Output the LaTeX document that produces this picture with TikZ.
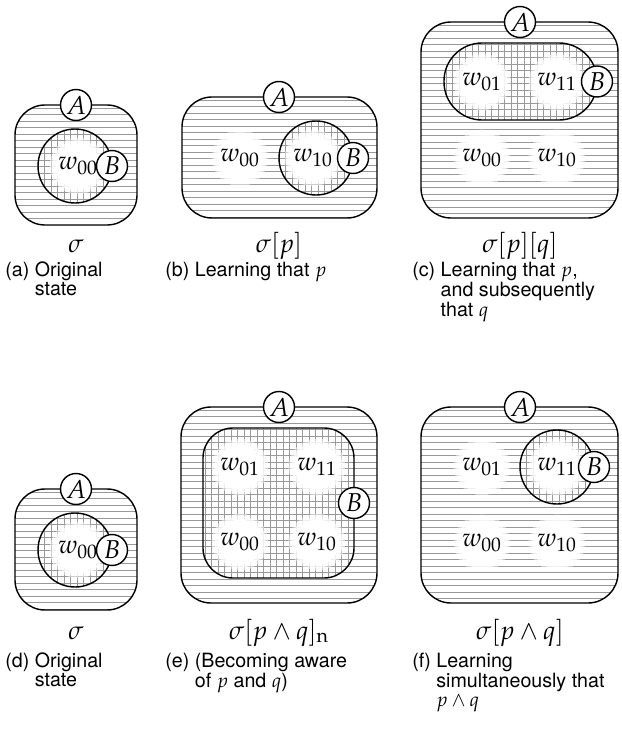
\documentclass[tikz,border=0pt]{standalone}
\usepackage{mathpazo}
\usepackage[no-math]{fontspec}
\newfontfamily\capsf{TeX Gyre Heros}
\newcommand\dfont{\fontsize{15.5}{18}\selectfont}
\newcommand\cfont{\fontsize{11.8}{11.6}\selectfont\capsf}
\tikzset{
  hatch/.style={draw=black!40, line width=0.45pt},
  region/.style={draw=black, line width=0.85pt},
  agent/.style={circle, draw=black, line width=0.85pt, fill=white, minimum size=18.6pt, inner sep=0.5pt, font=\dfont},
  world/.style={font=\dfont, inner sep=0pt},
  stlabel/.style={font=\dfont, anchor=base, inner sep=0pt},
  capnode/.style={anchor=base west, font=\cfont, inner sep=0pt},
}
\newcommand\hlines[4]{%
  \pgfmathtruncatemacro\nlines{((#4)-(#2))/6.5}%
  \foreach \k in {0,...,\nlines}{\draw[hatch] (#1,{#2+6.5*\k}) -- (#3,{#2+6.5*\k});}}
\newcommand\vlines[4]{%
  \pgfmathtruncatemacro\nlines{((#3)-(#1))/6.5}%
  \foreach \k in {0,...,\nlines}{\draw[hatch] ({#1+6.5*\k},#2) -- ({#1+6.5*\k},#4);}}
\newcommand\blob[1]{%
  \fill[white, opacity=0.5] (#1) circle[radius=17pt];
  \fill[white, opacity=0.7] (#1) circle[radius=15.5pt];
  \fill[white] (#1) circle[radius=13.5pt];}
\begin{document}
\begin{tikzpicture}[x=0.6pt, y=-0.6pt]
\useasboundingbox (0,0) rectangle (622,743);

% ---------- (a)
\begin{scope}
  \clip[rounded corners=18pt] (15,105) rectangle (137,225);
  \hlines{15}{108}{137}{225}
  \clip (75,166) circle[radius=22.2pt];
  \vlines{38}{128}{112}{204}
\end{scope}
\blob{78,166}
\node[world] (aw00) at (78,166) {$w_{00}$};
\draw[region, rounded corners=18pt] (15,105) rectangle (137,225);
\draw[region] (75,166) circle[radius=22.2pt];
\node[agent] (aA) at (76,105) {$A$};
\node[agent] (aB) at (112,166) {$B$};
\node[stlabel] (asig) at (76,252) {$\sigma$};
\node[capnode] (acap) at (5,276) {\begin{tabular}[t]{@{}l@{\ }l@{}}(a)&Original\\&state\end{tabular}};

% ---------- (b)
\begin{scope}
  \clip[rounded corners=18pt] (182,97) rectangle (377,218);
  \hlines{182}{100}{377}{218}
  \clip (316,158) circle[radius=22.2pt];
  \vlines{279}{120}{353}{196}
\end{scope}
\blob{240,158}
\blob{313,158}
\node[world] (bw00) at (240,158) {$w_{00}$};
\node[world] (bw10) at (313,158) {$w_{10}$};
\draw[region, rounded corners=18pt] (182,97) rectangle (377,218);
\draw[region] (316,158) circle[radius=22.2pt];
\node[agent] (bA) at (279,97) {$A$};
\node[agent] (bB) at (353,158) {$B$};
\node[stlabel] (bsig) at (279,252) {$\sigma[p]$};
\node[capnode] (bcap) at (165,276) {\begin{tabular}[t]{@{}l@{\ }l@{}}(b)&Learning that $p$\end{tabular}};

% ---------- (c)
\begin{scope}
  \clip[rounded corners=18pt] (421,22) rectangle (618,218);
  \hlines{421}{25}{618}{218}
  \clip[rounded corners=22.8pt] (444,43) rectangle (597,120);
  \vlines{446}{43}{597}{120}
\end{scope}
\blob{482,82}
\blob{557,82}
\blob{482,158}
\blob{557,158}
\node[world] (cw01) at (482,82) {$w_{01}$};
\node[world] (cw11) at (557,82) {$w_{11}$};
\node[world] (cw00) at (482,158) {$w_{00}$};
\node[world] (cw10) at (557,158) {$w_{10}$};
\draw[region, rounded corners=18pt] (421,22) rectangle (618,218);
\draw[region, rounded corners=22.8pt] (444,43) rectangle (597,120);
\node[agent] (cA) at (520,22) {$A$};
\node[agent] (cB) at (597,81.5) {$B$};
\node[stlabel] (csig) at (520,252) {$\sigma[p][q]$};
\node[capnode] (ccap) at (412,276) {\begin{tabular}[t]{@{}l@{\ }l@{}}(c)&Learning that $p$,\\&and subsequently\\&that $q$\end{tabular}};

% ---------- (d)
\begin{scope}
  \clip[rounded corners=18pt] (15,489) rectangle (137,610);
  \hlines{15}{492}{137}{610}
  \clip (75,550) circle[radius=22.2pt];
  \vlines{38}{512}{112}{588}
\end{scope}
\blob{78,550}
\node[world] (dw00) at (78,550) {$w_{00}$};
\draw[region, rounded corners=18pt] (15,489) rectangle (137,610);
\draw[region] (75,550) circle[radius=22.2pt];
\node[agent] (dA) at (76,489) {$A$};
\node[agent] (dB) at (112,550) {$B$};
\node[stlabel] (dsig) at (76,639) {$\sigma$};
\node[capnode] (dcap) at (5,667) {\begin{tabular}[t]{@{}l@{\ }l@{}}(d)&Original\\&state\end{tabular}};

% ---------- (e)
\begin{scope}
  \clip[rounded corners=18pt] (181,407) rectangle (377,603);
  \hlines{181}{410}{377}{603}
  \clip[rounded corners=18pt] (203,428) rectangle (354,578);
  \vlines{205}{428}{354}{578}
\end{scope}
\blob{240,467}
\blob{317,467}
\blob{240,542}
\blob{317,542}
\node[world] (ew01) at (240,467) {$w_{01}$};
\node[world] (ew11) at (317,467) {$w_{11}$};
\node[world] (ew00) at (240,542) {$w_{00}$};
\node[world] (ew10) at (317,542) {$w_{10}$};
\draw[region, rounded corners=18pt] (181,407) rectangle (377,603);
\draw[region, rounded corners=18pt] (203,428) rectangle (354,578);
\node[agent] (eA) at (279,407) {$A$};
\node[agent] (eB) at (354,503) {$B$};
\node[stlabel] (esig) at (279,639) {$\sigma[p\wedge q]_{\mathrm{n}}$};
\node[capnode] (ecap) at (165,667) {\begin{tabular}[t]{@{}l@{\ }l@{}}(e)&(Becoming aware\\&of $p$ and $q$)\end{tabular}};

% ---------- (f)
\begin{scope}
  \clip[rounded corners=18pt] (421,407) rectangle (618,603);
  \hlines{421}{410}{618}{603}
  \clip (557,467) circle[radius=22.2pt];
  \vlines{520}{430}{594}{504}
\end{scope}
\blob{482,467}
\blob{557,467}
\blob{482,543}
\blob{557,543}
\node[world] (fw01) at (482,467) {$w_{01}$};
\node[world] (fw11) at (557,467) {$w_{11}$};
\node[world] (fw00) at (482,543) {$w_{00}$};
\node[world] (fw10) at (557,543) {$w_{10}$};
\draw[region, rounded corners=18pt] (421,407) rectangle (618,603);
\draw[region] (557,467) circle[radius=22.2pt];
\node[agent] (fA) at (520,407) {$A$};
\node[agent] (fB) at (594,467) {$B$};
\node[stlabel] (fsig) at (520,639) {$\sigma[p\wedge q]$};
\node[capnode] (fcap) at (412,667) {\begin{tabular}[t]{@{}l@{\ }l@{}}(f)&Learning\\&simultaneously that\\&$p\wedge q$\end{tabular}};
\end{tikzpicture}
\end{document}
